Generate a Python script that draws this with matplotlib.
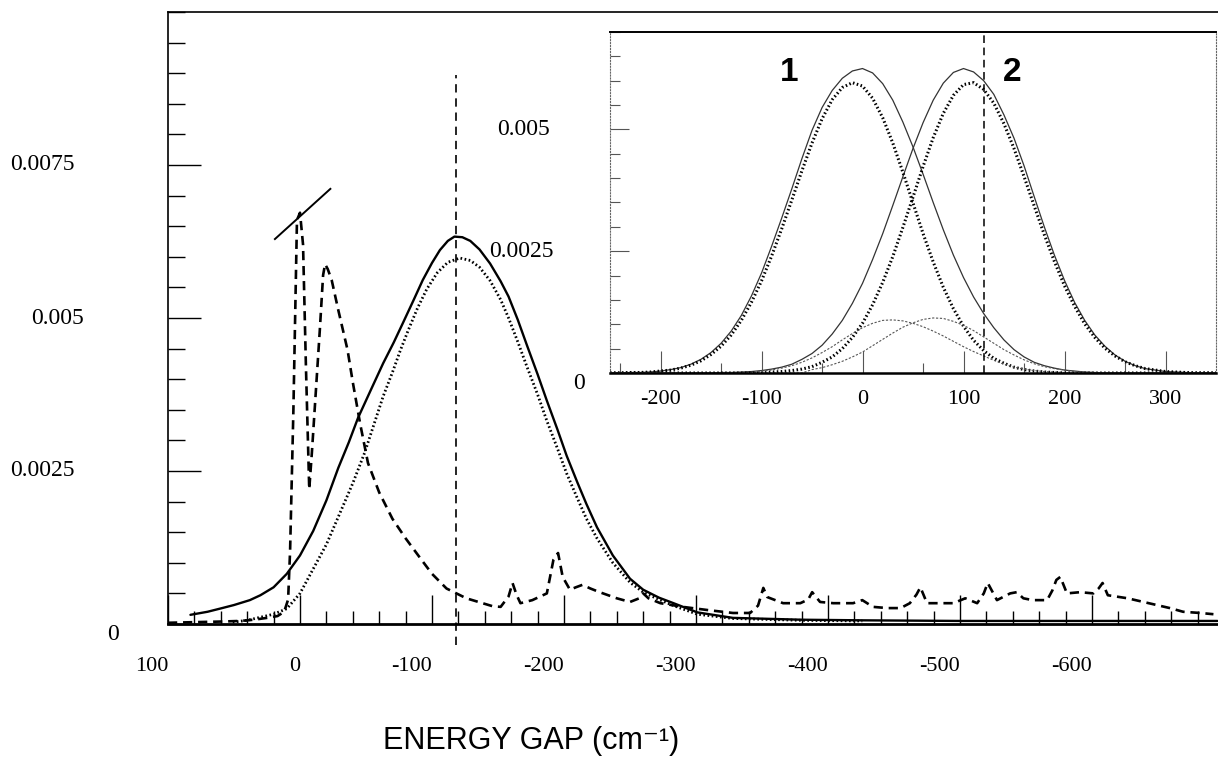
import numpy as np
import matplotlib
matplotlib.use('Agg')
import matplotlib.pyplot as plt
from matplotlib.ticker import MultipleLocator, FixedLocator

plt.rcParams['font.family'] = ['Liberation Serif', 'DejaVu Serif']

# ---- main panel: energy gap distributions ----
solid_x = [83, 70, 59, 50, 38, 30, 20, 10, 0, -10, -20, -29, -37, -44, -54, -63, -71, -78, -86, -93,
           -100, -106, -112, -117, -123, -129, -136, -144, -152, -158, -165, -172, -180, -187, -195,
           -202, -210, -217, -225, -237, -250, -260, -272, -283, -301, -328, -380, -426, -500, -600, -695]
solid_y = [.00015, .0002, .00026, .00031, .00039, .00047, .0006, .00082, .00112, .00152, .00202, .00255,
           .00297, .00337, .00384, .00426, .0046, .00492, .00529, .00562, .0059, .00611, .00626, .00633,
           .00632, .00626, .00612, .00589, .0056, .00535, .00497, .00455, .00408, .00365, .00318, .00275,
           .00232, .00196, .00158, .00112, .00074, .00056, .00043, .00034, .00019, .0001, .00007, .00006,
           .00005, .00005, .00005]

dot_x = [51, 40, 32, 20, 10, 0, -10, -20, -30, -40, -49, -56, -63, -70, -76, -82, -89, -96, -104, -112,
         -121, -129, -136, -144, -152, -158, -165, -172, -180, -187, -195, -202, -210, -217, -225, -237,
         -250, -260, -272, -283, -301, -328, -380, -426]
dot_y = [.00003, .00006, .0001, .00016, .00025, .0005, .0009, .0013, .0018, .0023, .0028, .00326, .00372,
         .00411, .00447, .0048, .00516, .00547, .00574, .00591, .00598, .00594, .00583, .00561, .0053,
         .005, .00461, .0042, .00375, .00332, .00287, .00246, .00206, .00172, .0014, .001, .00068, .00052,
         .0004, .0003, .00016, .00009, .00006, .00005]

dash_x = [100, 80, 60, 45, 35, 25, 17, 12, 9, 7.5, 5, 2.3, 0, -2.3, -4.5, -7, -9, -12, -15, -17.5, -19,
          -21, -24, -29, -36, -40, -45.5, -51.5, -60, -70, -80, -92, -100, -111, -126, -146, -152, -158,
          -161, -164, -167, -176, -187, -192, -195.5, -199, -204.5, -209, -214, -220, -227, -240, -250,
          -257, -260, -264, -273, -290, -308, -328, -341, -347, -351, -354, -366, -379, -385, -388, -394,
          -404, -419, -426, -434, -445, -455, -462, -467, -470, -475, -485, -495, -504, -513, -518, -521,
          -528, -538, -543, -548, -555, -566, -570, -573, -576, -581, -591, -601, -605, -608, -612, -627,
          -639, -659, -669, -682, -692]
dash_y = [.00002, .00003, .00004, .00005, .00007, .0001, .00013, .0002, .0004, .0012, .0035, .0066,
          .00672, .0062, .0042, .0022, .0028, .0038, .0048, .0057, .00588, .0058, .00562, .00513, .00448,
          .00395, .00328, .00263, .00215, .00172, .0014, .00105, .00082, .00058, .00042, .00029, .00028,
          .00045, .00067, .00048, .00034, .00039, .0005, .00105, .00116, .00077, .00056, .0006, .00064,
          .00058, .00052, .00042, .00036, .00042, .0005, .00042, .00034, .00028, .00023, .00018, .00018,
          .0003, .00059, .00044, .00034, .00034, .0004, .00052, .00036, .00034, .00034, .00039, .00028,
          .00026, .00026, .00034, .00048, .0006, .00034, .00034, .00034, .00042, .00034, .0005, .00067,
          .00039, .0005, .00052, .00042, .00039, .00039, .00055, .00072, .00077, .0005, .00052, .0005,
          .00058, .00067, .00047, .00042, .00036, .00026, .0002, .00018, .00016]

break_x = [19, -23]
break_y = [.00629, .00711]
gap_marker = -118

main_xticks = [100, 0, -100, -200, -300, -400, -500, -600]
main_xlabels = ['100', '0', '-100', '-200', '-300', '-400', '-500', '-600']
main_yticks = [0, .0025, .005, .0075]
main_ylabels = ['0', '0.0025', '0.005', '0.0075']

# ---- inset: the two components ----
ins_x = np.arange(-250, 351, 10)
comp1_dot = [0, 0, .00001, .00001, .00002, .00004, .00006, .0001, .00016, .00025, .00038, .00055, .00078,
             .00108, .00145, .00189, .0024, .00296, .00355, .00415, .00472, .00522, .00561, .00586, .00596,
             .00589, .00564, .00524, .00472, .00412, .00349, .00286, .00228, .00176, .00132, .00096, .00067,
             .00046, .0003, .0002, .00012, .00007, .00004, .00002, .00001,
             0, 0, 0, 0, 0, 0, 0, 0, 0, 0, 0, 0, 0, 0, 0, 0]
comp2_dot = [0, 0, 0, 0, 0, 0, 0, 0, 0, 0, 0, 0, 0, 0, 0, 0,
             .00002, .00003, .00005, .00008, .00013, .00022, .00033, .0005, .00073, .00102, .0014, .00186,
             .00239, .00299, .00361, .00424, .00483, .00533, .0057, .00592, .00596, .00582, .00554, .00512,
             .00461, .00403, .00343, .00284, .00229, .00179, .00137, .00101, .00073, .00051, .00035, .00023,
             .00015, .00009, .00006, .00003, .00002, .00001, 0, 0, 0]
comp1_tot = [0, 0, .00001, .00001, .00002, .00004, .00007, .00011, .00018, .00028, .00042, .00061, .00086,
             .00118, .00158, .00205, .0026, .00318, .00378, .0044, .00498, .00545, .0058, .00605, .0062,
             .00625, .00616, .00594, .0056, .00515, .00464, .00408, .0035, .00294, .00242, .00196, .00156,
             .00122, .00093, .00068, .00048, .00033, .00022, .00015, .0001, .00006, .00004, .00002, .00001,
             0, 0, 0, 0, 0, 0, 0, 0, 0, 0, 0, 0]
comp2_tot = [0, 0, 0, 0, 0, 0, 0, 0, 0, 0, 0,
             .00001, .00001, .00002, .00003, .00005, .00008, .00012, .00018, .00028, .0004, .00057, .0008,
             .00108, .00143, .00184, .00233, .00286, .00344, .00403, .00461, .00514, .0056, .00595, .00617,
             .00625, .00618, .006, .00572, .0053, .00482, .00425, .00362, .003, .00242, .0019, .00145,
             .00108, .00078, .00055, .00037, .00024, .00015, .00009, .00006, .00003, .00002, .00001, 0, 0, 0]
mix_a = [0, 0, 0, 0, 0, 0, 0, 0, 0, 0, 0, 0, 0, 0, 0,
         .00004, .00006, .0001, .00015, .00022, .00031, .00042, .00054, .00068, .00081, .00093, .00102,
         .00108, .00109, .00107, .00102, .00095, .00086, .00076, .00065, .00054, .00044, .00035, .00026,
         .00018, .00012, .00008, .00005, .00003, .00002, .00001,
         0, 0, 0, 0, 0, 0, 0, 0, 0, 0, 0, 0, 0, 0, 0]
mix_b = [0, 0, 0, 0, 0, 0, 0, 0, 0, 0, 0, 0, 0, 0, 0, 0, 0, 0, 0, 0,
         .00007, .00011, .00017, .00024, .00033, .00043, .00056, .00069, .00082, .00094, .00103, .0011,
         .00113, .00112, .00106, .00098, .00087, .00074, .00061, .00048, .00037, .00027, .00019, .00013,
         .00009, .00006, .00003, .00002, .00001,
         0, 0, 0, 0, 0, 0, 0, 0, 0, 0, 0, 0]
ins_marker = 120
ins_xticks = [-200, -100, 0, 100, 200, 300]
ins_xlabels = ['-200', '-100', '0', '100', '200', '300']
ins_xminor = [-240, -140, -40, 60, 160, 260]
ins_yticks = [0, .0025, .005]
ins_ylabels = ['0', '0.0025', '0.005']

W, H = 1218, 770
fig = plt.figure(figsize=(W / 100, H / 100), dpi=100)
ax = fig.add_axes([168 / W, 1 - 624 / H, 1050 / W, 612 / H])

ax.plot(solid_x, solid_y, color='black', lw=1.7, solid_capstyle='round')
ax.plot(dot_x, dot_y, color='black', lw=2.0, ls=(0, (0.6, 0.9)))
ax.plot(dash_x, dash_y, color='black', lw=1.9, ls=(0, (3.5, 2.2)))
ax.plot(break_x, break_y, color='black', lw=1.4)
ax.plot([gap_marker, gap_marker], [-0.00034, 0.00897], color='black', lw=1.2,
        ls=(0, (5, 3.5)), clip_on=False)

ax.set_xlim(100, 100 - 1050 / 1.32)
ax.set_ylim(0, 0.01)
ax.xaxis.set_major_locator(FixedLocator(main_xticks))
ax.xaxis.set_minor_locator(MultipleLocator(20))
ax.set_xticklabels(main_xlabels, ha='right', fontsize=16)
ax.yaxis.set_major_locator(FixedLocator(main_yticks))
ax.yaxis.set_minor_locator(MultipleLocator(0.0005))
ax.set_yticklabels([])
ax.tick_params(axis='x', which='major', direction='in', length=21, width=1.0, pad=24)
ax.tick_params(axis='x', which='minor', direction='in', length=9.5, width=1.0)
ax.tick_params(axis='y', which='major', direction='in', length=24, width=1.0)
ax.tick_params(axis='y', which='minor', direction='in', length=12, width=1.0)
ax.spines['right'].set_visible(False)
ax.spines['bottom'].set_linewidth(2.0)
ax.spines['left'].set_linewidth(1.2)
ax.spines['top'].set_linewidth(1.2)

ylab_pos = [-0.0524, -0.12, -0.1057, -0.12]
for v, s, xp in zip(main_yticks, main_ylabels, ylab_pos):
    ax.text(xp, v, s, transform=ax.get_yaxis_transform(), ha='center',
            va='top' if v == 0 else 'center', fontsize=17)

fig.text(531 / W, 1 - 741 / H, 'ENERGY GAP (cm\u207b\u00b9)', ha='center', va='center',
         fontsize=22, family=['Liberation Sans Narrow', 'Liberation Sans', 'DejaVu Sans'])

# ---- inset ----
ins = fig.add_axes([610 / W, 1 - 373 / H, 606 / W, 341 / H])
ins.set_facecolor('white')
ins.plot(ins_x, comp1_tot, color='#333333', lw=0.9)
ins.plot(ins_x, comp2_tot, color='#333333', lw=0.9)
ins.plot(ins_x, comp1_dot, color='black', lw=2.2, ls=(0, (0.5, 0.8)))
ins.plot(ins_x, comp2_dot, color='black', lw=2.2, ls=(0, (0.5, 0.8)))
ins.plot(ins_x, mix_a, color='#555555', lw=0.8, ls=(0, (2, 1.5)))
ins.plot(ins_x, mix_b, color='#555555', lw=0.8, ls=(0, (2, 1.5)))
ins.axvline(ins_marker, color='black', lw=1.1, ls=(0, (5, 3)))
ins.text(-73, 0.00617, '1', ha='center', va='center', fontsize=24, fontweight='bold',
         family=['Liberation Sans Narrow', 'Liberation Sans', 'DejaVu Sans'])
ins.text(148, 0.00617, '2', ha='center', va='center', fontsize=24, fontweight='bold',
         family=['Liberation Sans Narrow', 'Liberation Sans', 'DejaVu Sans'])

ins.set_xlim(-250, 350)
ins.set_ylim(0, 0.007)
ins.xaxis.set_major_locator(FixedLocator(ins_xticks))
ins.xaxis.set_minor_locator(FixedLocator(ins_xminor))
ins.set_xticklabels(ins_xlabels, fontsize=16)
ins.yaxis.set_major_locator(FixedLocator(ins_yticks))
ins.yaxis.set_minor_locator(MultipleLocator(0.0005))
ins.set_yticklabels([])
ins.tick_params(axis='x', which='major', direction='in', length=16, width=0.8, color='#555555', pad=12)
ins.tick_params(axis='x', which='minor', direction='in', length=7, width=0.8, color='#555555')
ins.tick_params(axis='y', which='major', direction='in', length=14, width=0.8, color='#555555')
ins.tick_params(axis='y', which='minor', direction='in', length=7, width=0.8, color='#555555')
ins.spines['top'].set_linewidth(1.4)
ins.spines['bottom'].set_linewidth(1.8)
for side in ('left', 'right'):
    ins.spines[side].set_linewidth(0.8)
    ins.spines[side].set_color('#666666')
    ins.spines[side].set_linestyle(':')

ins_ylab_pos = [-0.051, -0.147, -0.142]
for v, s, xp in zip(ins_yticks, ins_ylabels, ins_ylab_pos):
    ins.text(xp, v, s, transform=ins.get_yaxis_transform(), ha='center',
             va='top' if v == 0 else 'center', fontsize=17)

fig.savefig('out.png', dpi=100)
